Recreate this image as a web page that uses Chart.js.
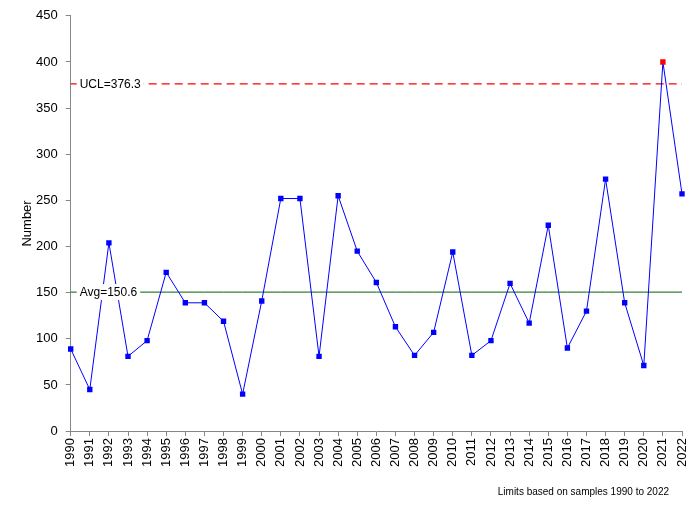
<!DOCTYPE html>
<html>
<head>
<meta charset="utf-8">
<script src="https://cdn.jsdelivr.net/npm/chart.js@4/dist/chart.umd.min.js"></script>
<style>
    html, body { margin: 0; padding: 0; background: #fff; }
    #wrap { width: 693px; height: 507px; }
</style>
</head>
<body>
<div id="wrap"><canvas id="myChart" width="693" height="507"></canvas></div>
<script>
// data
const years = ['1990','1991','1992','1993','1994','1995','1996','1997','1998','1999',
    '2000','2001','2002','2003','2004','2005','2006','2007','2008','2009',
    '2010','2011','2012','2013','2014','2015','2016','2017','2018','2019',
    '2020','2021','2022'];
const counts = [89, 45, 204, 81, 98, 172, 139, 139, 119, 40,
    141, 252, 252, 81, 255, 195, 161, 113, 82, 107,
    194, 82, 98, 160, 117, 223, 90, 130, 273, 139,
    71, 400, 257];
const avgValue = 150.6;
const uclValue = 376.3;
const yTicks = [0, 50, 100, 150, 200, 250, 300, 350, 400, 450];
const yTitle = 'Number';
const footNote = 'Limits based on samples 1990 to 2022';

const FONT = "'Liberation Sans', Arial, sans-serif";

// points above the UCL are red
const pointColors = counts.map(v => v > uclValue ? '#ff0000' : '#0000ff');

// draws the "UCL=..." and "Avg=..." labels over their lines, the y title and the footnote
const limitLabels = {
    id: 'limitLabels',
    afterDatasetsDraw(chart) {
        const ctx = chart.ctx;
        const yScale = chart.scales.y;
        const area = chart.chartArea;
        ctx.save();
        ctx.font = '12px ' + FONT;
        ctx.textBaseline = 'middle';
        [['UCL=' + uclValue.toFixed(1), uclValue], ['Avg=' + avgValue.toFixed(1), avgValue]].forEach(([txt, val]) => {
            const y = yScale.getPixelForValue(val);
            const w = ctx.measureText(txt).width;
            ctx.fillStyle = '#fff';
            ctx.fillRect(area.left + 6, y - 8, w + 6, 16);
            ctx.fillStyle = '#000';
            ctx.fillText(txt, area.left + 9, y + 1);
        });

        // y axis title
        ctx.save();
        ctx.font = '13px ' + FONT;
        ctx.textAlign = 'center';
        ctx.textBaseline = 'middle';
        ctx.translate(27, (area.top + area.bottom) / 2);
        ctx.rotate(-Math.PI / 2);
        ctx.fillText(yTitle, 0, 0);
        ctx.restore();

        ctx.font = '10px ' + FONT;
        ctx.textAlign = 'right';
        ctx.fillText(footNote, chart.width - 24, chart.height - 15);
        ctx.restore();
    }
};

const ctx = document.getElementById('myChart').getContext('2d');
new Chart(ctx, {
    type: 'line',
    data: {
        labels: years,
        datasets: [
            {
                label: 'Number',
                data: counts,
                borderColor: '#0000ff',
                borderWidth: 1,
                pointStyle: 'rect',
                pointRadius: 3.8,
                pointBorderWidth: 0,
                pointBackgroundColor: pointColors,
                pointBorderColor: pointColors,
                tension: 0,
                order: 0
            },
            {
                label: 'Avg',
                data: years.map(() => avgValue),
                borderColor: '#006000',
                borderWidth: 1,
                pointRadius: 0,
                order: 2
            },
            {
                label: 'UCL',
                data: years.map(() => uclValue),
                borderColor: '#ff0000',
                borderWidth: 1.2,
                borderDash: [8, 5],
                pointRadius: 0,
                order: 1
            }
        ]
    },
    options: {
        responsive: false,
        animation: false,
        layout: {
            padding: {top: 4, right: 11, left: 28, bottom: 38}
        },
        scales: {
            x: {
                offset: false,
                // let the rotated end labels hang over the padding
                afterFit: axis => {
                    axis.paddingLeft = 0;
                    axis.paddingRight = 0;
                },
                grid: {
                    display: true,
                    drawOnChartArea: false,
                    drawTicks: true,
                    tickLength: 5,
                    color: '#868686'
                },
                border: {color: '#868686'},
                ticks: {
                    color: '#000',
                    font: {family: FONT, size: 13},
                    minRotation: 90,
                    maxRotation: 90,
                    autoSkip: false,
                    padding: 2
                }
            },
            y: {
                min: 0,
                max: 450,
                afterBuildTicks: axis => {
                    axis.ticks = yTicks.map(v => ({value: v}));
                },
                grid: {
                    display: true,
                    drawOnChartArea: false,
                    drawTicks: true,
                    tickLength: 5,
                    color: '#868686'
                },
                border: {color: '#868686'},
                ticks: {
                    color: '#000',
                    font: {family: FONT, size: 13},
                    padding: 8
                }
            }
        },
        plugins: {
            legend: {display: false},
            tooltip: {enabled: false}
        }
    },
    plugins: [limitLabels]
});
</script>
</body>
</html>
